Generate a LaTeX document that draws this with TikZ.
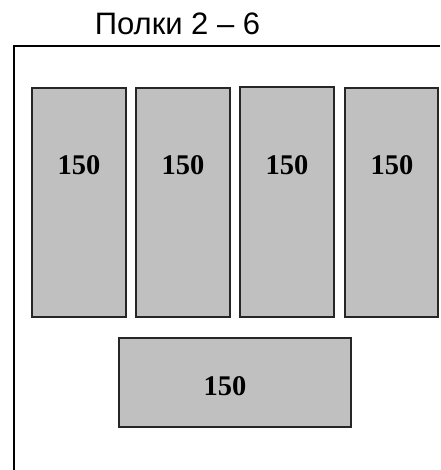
\documentclass[tikz,border=0pt]{standalone}
\usepackage{fontspec}
\setmainfont{Liberation Serif}
\newfontfamily\arialfont{Liberation Sans}
\definecolor{shelfgray}{RGB}{192,192,192}

\begin{document}
\begin{tikzpicture}
  [x=1pt, y=-1pt,
   shelf/.style={draw=black!85, line width=1.2pt, fill=shelfgray, inner sep=0pt},
   num/.style={font=\fontsize{28.5}{32}\selectfont\bfseries, inner sep=0pt},
   title/.style={font=\arialfont\fontsize{31}{36}\selectfont, inner sep=0pt, anchor=base}]
  \useasboundingbox (0,0) rectangle (440,470);
  % frame
  \draw[line width=2pt] (14,470) -- (14,46.5) -- (440,46.5);
  \node[title] (head) at (177.5,35) {Полки 2 – 6};
  % upper shelves
  \node[shelf, minimum width=94pt, minimum height=229pt] (s1) at (79,202.5) {};
  \node[shelf, minimum width=94pt, minimum height=229pt] (s2) at (183,202.5) {};
  \node[shelf, minimum width=94pt, minimum height=230pt] (s3) at (287,202) {};
  \node[shelf, minimum width=93pt, minimum height=229pt] (s4) at (391.5,202.5) {};
  \node[num] (n1) at (79,165.5) {150};
  \node[num] (n2) at (183,165.5) {150};
  \node[num] (n3) at (287,165.5) {150};
  \node[num] (n4) at (392,165.5) {150};
  % lower shelf
  \node[shelf, minimum width=232pt, minimum height=89pt] (s5) at (235,382.5) {};
  \node[num] (n5) at (225,386) {150};
\end{tikzpicture}
\end{document}
